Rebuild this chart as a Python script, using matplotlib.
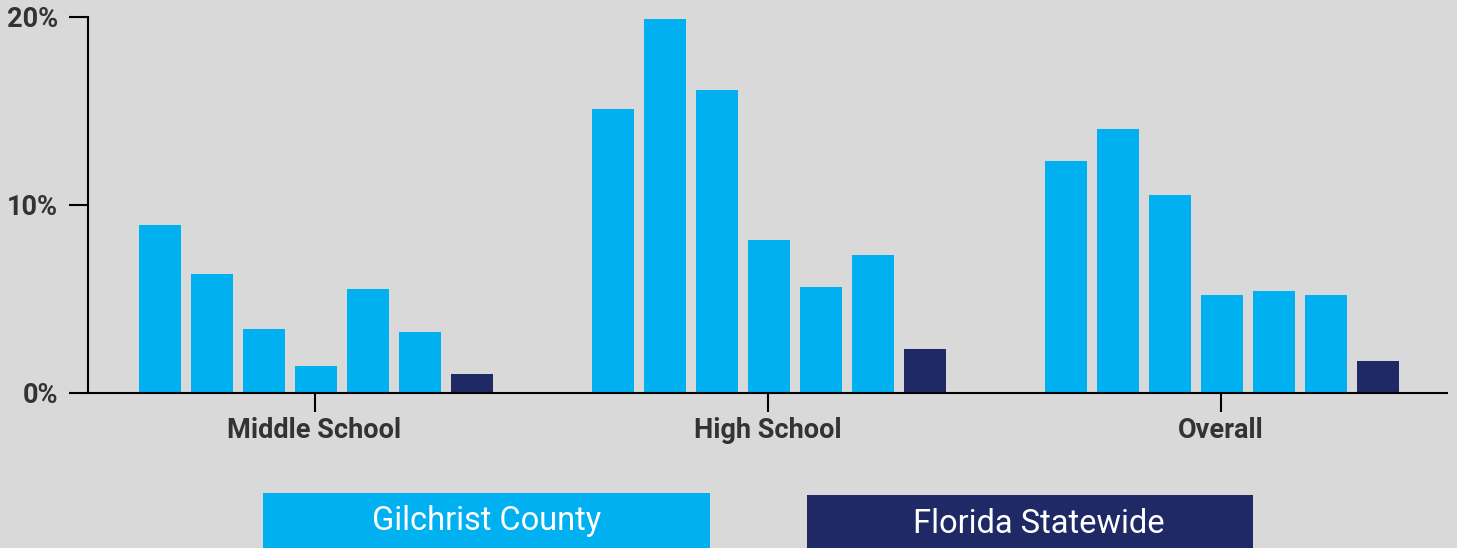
import numpy as np
import matplotlib
matplotlib.use("Agg")
import matplotlib.pyplot as plt
from matplotlib.patches import Rectangle

# values (percent)
groups = ["Middle School", "High School", "Overall"]
county_a = [8.9, 15.1, 12.3]
county_b = [6.3, 19.9, 14.0]
county_c = [3.4, 16.1, 10.5]
county_d = [1.4, 8.1, 5.2]
county_e = [5.5, 5.6, 5.4]
county_f = [3.2, 7.3, 5.2]
statewide = [1.0, 2.3, 1.7]
yticks = [0, 10, 20]
ytick_labels = ["0%", "10%", "20%"]

bg = "#d9d9d9"
light = "#00b0f0"
navy = "#1e2966"
txt = "#333333"
font = ["Roboto", "DejaVu Sans"]

fig = plt.figure(figsize=(14.57, 5.48), dpi=100, facecolor=bg)
W, H = 1457, 548
ax = fig.add_axes([88/W, (H-392.5)/H, 1359/W, (392.5-16.7)/H])
ax.set_facecolor(bg)

x = np.arange(len(groups)) + 0.004
step = 0.1148
width = 0.0927
series = [county_a, county_b, county_c, county_d, county_e, county_f]
for i, vals in enumerate(series):
    ax.bar(x + (i-3)*step, vals, width, color=light, zorder=2)
ax.bar(x + 3*step, statewide, width, color=navy, zorder=2)

ax.set_xlim(-0.5, 2.5)
ax.set_ylim(0, 20)
ax.set_xticks(np.arange(len(groups)))
ax.set_xticklabels(groups, fontsize=19.5, fontweight="bold", color=txt, family=font)
ax.set_yticks(yticks)
ax.set_yticklabels(ytick_labels, fontsize=19.5, fontweight="bold", color=txt, family=font)
ax.tick_params(axis="y", length=13.5, width=1.5, pad=8, colors="black", labelcolor=txt)
ax.tick_params(axis="x", length=13.5, width=1.5, pad=4, colors="black", labelcolor=txt)

for s in ["top", "right"]:
    ax.spines[s].set_visible(False)
for s in ["left", "bottom"]:
    ax.spines[s].set_linewidth(1.5)
    ax.spines[s].set_color("black")

# legend as coloured boxes at the bottom
fig.patches.append(Rectangle((263/W, 0), 447/W, 55/H, transform=fig.transFigure,
                             facecolor=light, edgecolor="none"))
fig.patches.append(Rectangle((807/W, 0), 446/W, 53/H, transform=fig.transFigure,
                             facecolor=navy, edgecolor="none"))
fig.text(487/W, (H-521)/H, "Gilchrist County", color="white", fontsize=23.5,
         ha="center", va="center", family=font)
fig.text(1039/W, (H-524)/H, "Florida Statewide", color="white", fontsize=23.5,
         ha="center", va="center", family=font)

fig.savefig("out.png", dpi=100, facecolor=bg)
